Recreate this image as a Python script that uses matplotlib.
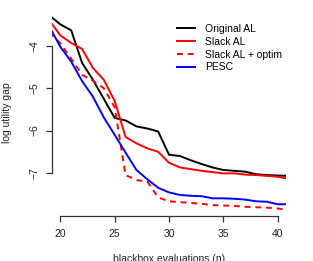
import numpy as np
import matplotlib
matplotlib.use('Agg')
import matplotlib.pyplot as plt

plt.rcParams['font.family'] = ['Liberation Sans', 'DejaVu Sans']

n = np.arange(19, 42)

orig_al = [-3.28, -3.49, -3.63, -4.40, -4.80, -5.25, -5.70, -5.76, -5.90, -5.95,
           -6.02, -6.57, -6.60, -6.70, -6.79, -6.87, -6.93, -6.95, -6.97, -7.03,
           -7.05, -7.06, -7.07]
slack_al = [-3.40, -3.75, -3.93, -4.07, -4.52, -4.80, -5.30, -6.15, -6.30, -6.42,
            -6.50, -6.76, -6.87, -6.91, -6.95, -6.98, -7.01, -7.01, -7.04, -7.05,
            -7.07, -7.09, -7.14]
slack_optim = [-3.68, -3.94, -4.30, -4.68, -4.82, -5.00, -5.45, -7.05, -7.17, -7.20,
               -7.58, -7.67, -7.69, -7.71, -7.73, -7.76, -7.77, -7.78, -7.80, -7.81,
               -7.82, -7.84, -7.87]
pesc = [-3.55, -4.02, -4.37, -4.83, -5.20, -5.69, -6.10, -6.52, -6.93, -7.15,
        -7.35, -7.46, -7.52, -7.54, -7.55, -7.60, -7.60, -7.61, -7.63, -7.67,
        -7.68, -7.74, -7.74]

fig = plt.figure(figsize=(3.13, 2.61), dpi=100)
ax = fig.add_axes([0.165, 0.172, 0.75, 0.793])

ax.plot(n, orig_al, color='black', lw=1.4, label='Original AL')
ax.plot(n, slack_al, color='red', lw=1.4, label='Slack AL')
ax.plot(n, slack_optim, color='red', lw=1.4, ls=(0, (3, 2.5)), label='Slack AL + optim')
ax.plot(n, pesc, color='blue', lw=1.4, label='PESC')

ax.set_xlim(19.2, 40.8)
ax.set_ylim(-8.02, -3.13)
ax.set_xticks([20, 25, 30, 35, 40])
ax.set_yticks([-7, -6, -5, -4])

for s in ['top', 'right']:
    ax.spines[s].set_visible(False)
ax.spines['bottom'].set_bounds(20, 40)
ax.spines['left'].set_bounds(-7, -4)
for s in ['bottom', 'left']:
    ax.spines[s].set_color('#333333')
    ax.spines[s].set_linewidth(0.9)

ax.tick_params(axis='both', length=4, width=0.9, color='#333333', labelsize=7.5,
               labelcolor='#222222')
ax.tick_params(axis='x', pad=5)
ax.tick_params(axis='y', pad=5)
for lbl in ax.get_yticklabels():
    lbl.set_rotation(90)
    lbl.set_va('center')

ax.set_xlabel('blackbox evaluations (n)', fontsize=7.5, labelpad=11, color='#222222')
ax.set_ylabel('log utility gap', fontsize=7.5, labelpad=12, color='#222222')

ax.legend(loc='upper right', bbox_to_anchor=(1.02, 0.975), frameon=False, fontsize=7.5,
          handlelength=1.8, handletextpad=0.9, labelspacing=0.28)

fig.savefig('out.png', dpi=100)
